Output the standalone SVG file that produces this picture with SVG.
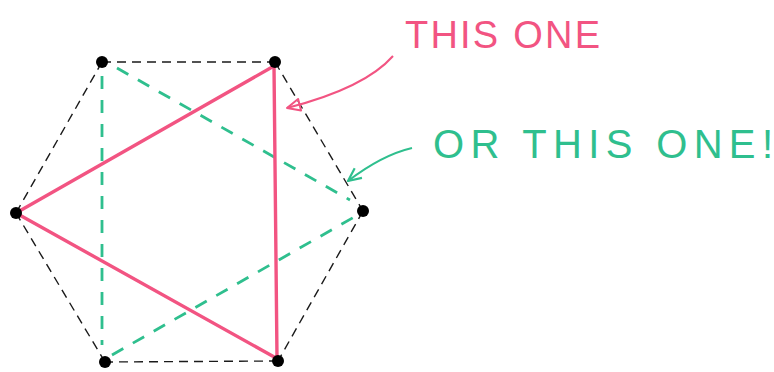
<svg xmlns="http://www.w3.org/2000/svg" width="774" height="372" viewBox="0 0 774 372">
<defs>
<style>
.hex{stroke:#1a1a1a;stroke-width:1.4;stroke-dasharray:9 6;fill:none}
.pink{stroke:#f25482;stroke-width:3.4;fill:none;stroke-linecap:round}
.green{stroke:#2fbf8e;stroke-width:2.8;fill:none;stroke-dasharray:13 11}
.node{fill:#000}
.lbl{font-family:"Liberation Sans",Arial,sans-serif;font-weight:normal}
</style>
<marker id="ahP" viewBox="0 0 16 16" refX="15" refY="8" markerWidth="16" markerHeight="16" markerUnits="userSpaceOnUse" orient="auto">
<path d="M2,2 L15,8 L2,14 Z" fill="none" stroke="#f25482" stroke-width="2" stroke-linejoin="round"/>
</marker>
<marker id="ahG" viewBox="0 0 16 16" refX="15" refY="8" markerWidth="16" markerHeight="16" markerUnits="userSpaceOnUse" orient="auto">
<path d="M2,2 L15,8 L2,14" fill="none" stroke="#2fbf8e" stroke-width="2.2" stroke-linejoin="round"/>
</marker>
</defs>
<rect width="774" height="372" fill="#fff"/>
<g id="connectors">
<path class="hex" d="M102,62 L275,62"/>
<path class="hex" d="M275,62 L363,211"/>
<path class="hex" d="M363,211 L278,361"/>
<path class="hex" d="M278,361 L105,362"/>
<path class="hex" d="M105,362 L16,213"/>
<path class="hex" d="M16,213 L102,62"/>
<path class="green" d="M102,76 L102,345"/>
<path class="green" d="M117,68 L350,200"/>
<path class="green" d="M112,355 L356,216"/>
<path class="pink" d="M16,213 L274,66"/>
<path class="pink" d="M274,66 L277,358"/>
<path class="pink" d="M16,213 L276,358"/>
<path d="M393,56 Q365,88 287,108" fill="none" stroke="#f25482" stroke-width="2" marker-end="url(#ahP)"/>
<path d="M412,148 Q382,155 348,181" fill="none" stroke="#2fbf8e" stroke-width="2" marker-end="url(#ahG)"/>
</g>
<g id="n1"><circle class="node" cx="102" cy="62" r="6"/></g>
<g id="n2"><circle class="node" cx="275" cy="62" r="6"/></g>
<g id="n3"><circle class="node" cx="16" cy="213" r="6"/></g>
<g id="n4"><circle class="node" cx="363" cy="211" r="6"/></g>
<g id="n5"><circle class="node" cx="105" cy="362" r="6"/></g>
<g id="n6"><circle class="node" cx="278" cy="361" r="6"/></g>
<g id="label1"><text class="lbl" x="405" y="48" font-size="38" fill="#f25482" textLength="195" lengthAdjust="spacing">THIS ONE</text></g>
<g id="label2"><text class="lbl" x="433" y="158" font-size="40" fill="#2fbf8e" textLength="340" lengthAdjust="spacing">OR THIS ONE!</text></g>
</svg>
